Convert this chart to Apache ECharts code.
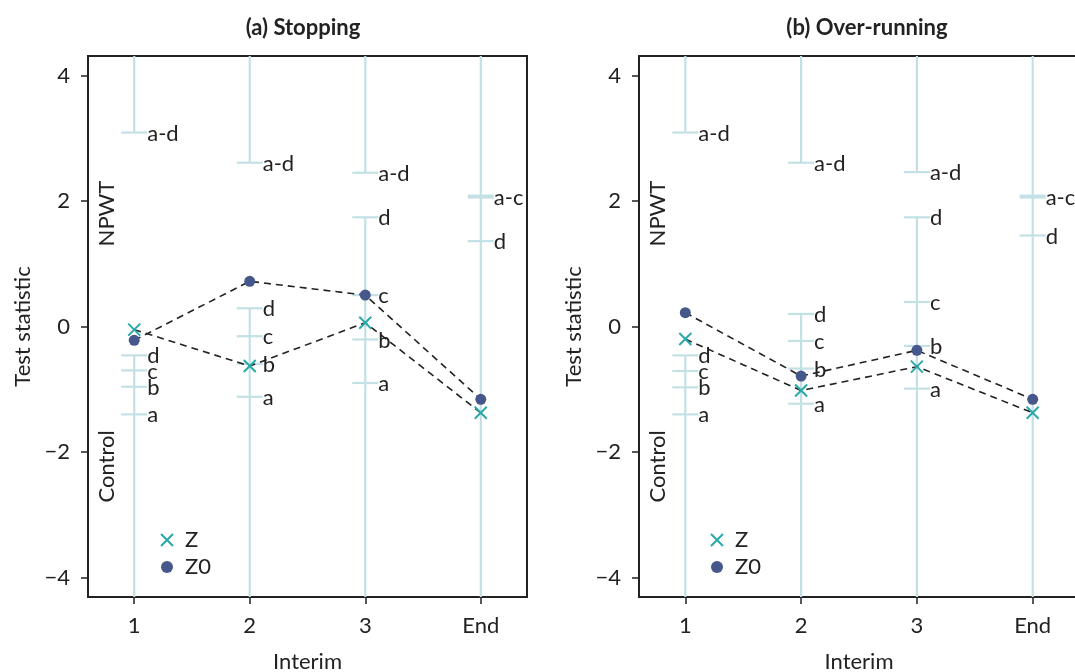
<!DOCTYPE html>
<html><head><meta charset="utf-8">
<script src="https://cdn.jsdelivr.net/npm/echarts@6/dist/echarts.min.js"></script>
<style>html,body{margin:0;padding:0;background:#fff}#c{width:1075px;height:672px}</style>
</head><body><div id="c"></div>
<script>
// ---------- data ----------
const interims = ['1', '2', '3', 'End'];
const yTickValues = [-4, -2, 0, 2, 4];
const panelTitles = ['(a) Stopping', '(b) Over-running'];

// (a) Stopping
const stopZ  = [-0.05, -0.63, 0.06, -1.375];
const stopZ0 = [-0.22, 0.72, 0.50, -1.16];
const stopUpperEnd = [3.09, 2.61, 2.45, null];   // efficacy boundary (line from top down to here)
const stopLowerTop = [-0.46, 0.29, 1.74, null];  // highest futility boundary (line from here down)
const stopBounds = [
  [0, 3.09, 'a-d'], [0, -0.46, 'd'], [0, -0.70, 'c'], [0, -0.96, 'b'], [0, -1.40, 'a'],
  [1, 2.61, 'a-d'], [1, 0.29, 'd'], [1, -0.155, 'c'], [1, -0.595, 'b'], [1, -1.12, 'a'],
  [2, 2.45, 'a-d'], [2, 1.74, 'd'], [2, 0.50, 'c'], [2, -0.207, 'b'], [2, -0.90, 'a'],
  [3, 2.07, 'a-c'], [3, 1.36, 'd']
];

// (b) Over-running
const overZ  = [-0.20, -1.02, -0.64, -1.375];
const overZ0 = [0.22, -0.79, -0.38, -1.16];
const overUpperEnd = [3.09, 2.61, 2.46, null];
const overLowerTop = [-0.46, 0.20, 1.74, null];
const overBounds = [
  [0, 3.09, 'a-d'], [0, -0.46, 'd'], [0, -0.71, 'c'], [0, -0.97, 'b'], [0, -1.40, 'a'],
  [1, 2.61, 'a-d'], [1, 0.20, 'd'], [1, -0.23, 'c'], [1, -0.67, 'b'], [1, -1.23, 'a'],
  [2, 2.46, 'a-d'], [2, 1.74, 'd'], [2, 0.39, 'c'], [2, -0.31, 'b'], [2, -0.99, 'a'],
  [3, 2.07, 'a-c'], [3, 1.45, 'd']
];

// ---------- styling ----------
const FONT = 'Lato';
const FS = 22;
const INK = '#222222';
const BLUE = '#c3e1e5';
const TEAL = '#2aa9a9';
const NAVY = '#45578b';
const YMIN = -4.31, YMAX = 4.31;
const XMIN = -0.4, XMAX = 3.4;
const CROSS = 'path://M0,0L10,10M10,0L0,10';

const panels = [
  {Z: stopZ, Z0: stopZ0, up: stopUpperEnd, low: stopLowerTop, bounds: stopBounds},
  {Z: overZ, Z0: overZ0, up: overUpperEnd, low: overLowerTop, bounds: overBounds}
];

function segData(p) {
  const d = [];
  for (let i = 0; i < interims.length; i++) {
    if (p.up[i] == null) { d.push([i, YMAX, YMIN]); }
    else { d.push([i, YMAX, p.up[i]]); d.push([i, p.low[i], YMIN]); }
  }
  return d;
}

function segRender(params, api) {
  const a = api.coord([api.value(0), api.value(1)]);
  const b = api.coord([api.value(0), api.value(2)]);
  return {type: 'line', shape: {x1: a[0], y1: a[1], x2: b[0], y2: b[1]},
          style: {stroke: BLUE, lineWidth: 2.2}};
}

function tickRenderFor(bounds) {
  return function (params, api) {
    const lab = bounds[params.dataIndex][2];
    const p = api.coord([api.value(0), api.value(1)]);
    const thick = lab === 'a-c';
    return {type: 'group', children: [
      {type: 'line', shape: {x1: p[0] - 13, y1: p[1], x2: p[0] + 13, y2: p[1]},
       style: {stroke: BLUE, lineWidth: thick ? 4 : 2.2}},
      {type: 'text', x: p[0] + 13, y: p[1] + 1,
       style: {text: lab, fill: INK, fontSize: FS, fontFamily: FONT, align: 'left', verticalAlign: 'middle'}}
    ]};
  };
}

function sideRender(params, api) {
  const p1 = api.coord([-0.235, 1.80]);
  const p2 = api.coord([-0.235, -2.23]);
  return {type: 'group', children: [
    {type: 'text', x: p1[0], y: p1[1], rotation: Math.PI / 2,
     style: {text: 'NPWT', fill: INK, fontSize: FS, fontFamily: FONT, align: 'center', verticalAlign: 'middle'}},
    {type: 'text', x: p2[0], y: p2[1], rotation: Math.PI / 2,
     style: {text: 'Control', fill: INK, fontSize: FS, fontFamily: FONT, align: 'center', verticalAlign: 'middle'}}
  ]};
}

const grids = [
  {left: 88, top: 56, width: 439, height: 541},
  {left: 639, top: 56, width: 440, height: 541}
].map(g => Object.assign(g, {show: true, borderColor: INK, borderWidth: 2, backgroundColor: 'transparent',
                              containLabel: false, outerBoundsMode: 'none'}));

const xAxes = [0, 1].map(i => ({
  type: 'value', gridIndex: i, min: XMIN, max: XMAX,
  name: 'Interim', nameLocation: 'middle', nameGap: 54,
  nameTextStyle: {fontFamily: FONT, fontSize: FS, color: INK},
  axisLine: {show: true, onZero: false, lineStyle: {color: INK, width: 2}},
  axisTick: {show: true, length: 7, lineStyle: {color: INK, width: 1.5}, customValues: [0, 1, 2, 3]},
  axisLabel: {show: true, margin: 18, fontFamily: FONT, fontSize: FS, color: INK,
              customValues: [0, 1, 2, 3], formatter: v => interims[Math.round(v)]},
  splitLine: {show: false}
}));

const yAxes = [0, 1].map(i => ({
  type: 'value', gridIndex: i, min: YMIN, max: YMAX,
  name: 'Test statistic', nameLocation: 'middle', nameGap: 54, nameRotate: 90,
  nameTextStyle: {fontFamily: FONT, fontSize: FS, color: INK},
  axisLine: {show: true, onZero: false, lineStyle: {color: INK, width: 2}},
  axisTick: {show: true, length: 7, lineStyle: {color: INK, width: 1.5}, customValues: yTickValues},
  axisLabel: {show: true, margin: 18, fontFamily: FONT, fontSize: FS, color: INK,
              customValues: yTickValues, formatter: v => (v < 0 ? '\u2212' + Math.abs(v) : String(v))},
  splitLine: {show: false}
}));

const series = [];
panels.forEach((p, i) => {
  series.push({type: 'custom', xAxisIndex: i, yAxisIndex: i, renderItem: segRender,
               data: segData(p), silent: true, z: 1, clip: true});
  series.push({type: 'custom', xAxisIndex: i, yAxisIndex: i, renderItem: tickRenderFor(p.bounds),
               data: p.bounds.map(b => [b[0], b[1]]), silent: true, z: 2});
  series.push({type: 'custom', xAxisIndex: i, yAxisIndex: i, renderItem: sideRender,
               data: [[0, 0]], silent: true, z: 2});
  series.push({type: 'line', xAxisIndex: i, yAxisIndex: i, symbol: 'none', z: 3,
               data: p.Z.map((v, k) => [k, v]), lineStyle: {color: INK, width: 1.6, type: [7, 5]}, silent: true});
  series.push({type: 'line', xAxisIndex: i, yAxisIndex: i, symbol: 'none', z: 3,
               data: p.Z0.map((v, k) => [k, v]), lineStyle: {color: INK, width: 1.6, type: [7, 5]}, silent: true});
  series.push({name: 'Z', type: 'scatter', xAxisIndex: i, yAxisIndex: i, symbol: CROSS, symbolSize: 12, z: 4,
               data: p.Z.map((v, k) => [k, v]),
               itemStyle: {color: 'rgba(0,0,0,0)', borderColor: TEAL, borderWidth: 2, opacity: 1}});
  series.push({name: 'Z0', type: 'scatter', xAxisIndex: i, yAxisIndex: i, symbol: 'circle', symbolSize: 11, z: 5,
               data: p.Z0.map((v, k) => [k, v]), itemStyle: {color: NAVY, opacity: 1}});
});

const legends = [160, 710].map(l => ({
  left: l, top: 529, padding: 0, orient: 'vertical', itemGap: 5, itemWidth: 12, itemHeight: 12,
  data: [{name: 'Z', icon: CROSS, itemStyle: {color: 'rgba(0,0,0,0)', borderColor: TEAL, borderWidth: 2}},
         {name: 'Z0', icon: 'circle', itemStyle: {color: NAVY}}],
  textStyle: {fontFamily: FONT, fontSize: FS, color: INK, padding: [0, 0, 0, 7]},
  selectedMode: false
}));

const titles = [298, 862].map((x, i) => ({
  text: panelTitles[i], left: x, top: 12, textAlign: 'center',
  textStyle: {fontFamily: FONT, fontSize: 22, fontWeight: 'bold', color: INK}
}));

const chart = echarts.init(document.getElementById('c'), null, {renderer: 'canvas'});
chart.setOption({
  animation: false,
  backgroundColor: '#ffffff',
  title: titles,
  legend: legends,
  grid: grids,
  xAxis: xAxes,
  yAxis: yAxes,
  series: series
});
</script></body></html>
